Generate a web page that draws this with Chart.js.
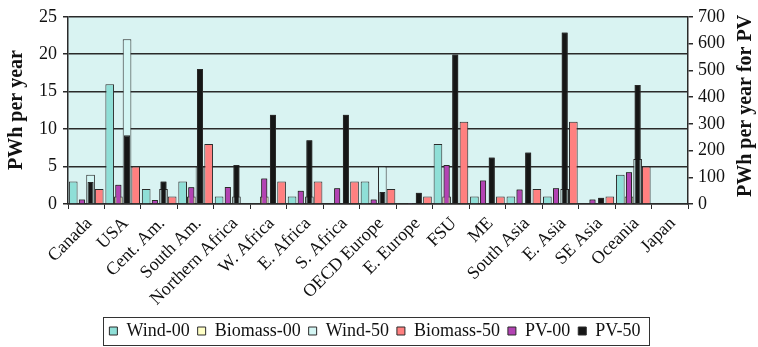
<!DOCTYPE html>
<html>
<head>
<meta charset="utf-8">
<script src="https://cdn.jsdelivr.net/npm/chart.js@4.4.1/dist/chart.umd.min.js"></script>
<style>
  html, body { margin: 0; padding: 0; background: #ffffff; }
  #wrap { width: 758px; height: 347px; }
</style>
</head>
<body>
<div id="wrap"><canvas id="c" width="758" height="347"></canvas></div>
<script>
const categories = ['Canada', 'USA', 'Cent. Am.', 'South Am.', 'Northern Africa', 'W. Africa', 'E. Africa', 'S. Africa', 'OECD Europe', 'E. Europe', 'FSU', 'ME', 'South Asia', 'E. Asia', 'SE Asia', 'Oceania', 'Japan'];
const wind00    = [3, 16, 2, 3, 1, 0, 1, 0, 3, 0, 8, 1, 1, 1, 0, 3.9, 0];
const biomass00 = [0, 1, 0, 1, 0, 1, 0, 0, 0, 0, 1, 0, 0, 0, 0, 1, 0];
const wind50    = [3.9, 22, 2, 5, 1, 0, 1, 0, 5, 0, 0, 0, 0, 2, 0, 6, 0];
const biomass50 = [2, 5, 1, 8, 0, 3, 3, 3, 2, 1, 11, 1, 2, 11, 1, 5, 0];
// PV series use the right-hand axis (PWh per year for PV)
const pv00 = [17, 72, 15, 63, 64, 95, 50, 59, 17, 4, 146, 88, 54, 59, 17, 119, 0];
const pv50 = [82, 257, 84, 505, 146, 334, 238, 334, 45, 42, 559, 174, 193, 641, 23, 445, 0];
const leftTicksMax = 25;
const rightTicksMax = 700;

const SERIF = '"Liberation Serif", "Times New Roman", serif';
const EDGE = '#2a2a2a';

function primary(label, data, color, slot) {
  return { label, data, backgroundColor: color, borderColor: EDGE, borderWidth: 1,
    xAxisID: 'x', yAxisID: 'y', stack: slot, categoryPercentage: 0.95, barPercentage: 1.0 };
}
function secondary(label, data, color, slot) {
  return { label, data, backgroundColor: color, borderColor: EDGE, borderWidth: 1,
    xAxisID: 'x', yAxisID: 'y2', stack: slot, categoryPercentage: 0.95, barPercentage: 0.7 };
}

const decor = {
  id: 'decor',
  beforeDraw(chart) {
    const { ctx, chartArea: a } = chart;
    ctx.save();
    ctx.fillStyle = '#d9f3f2';
    ctx.fillRect(a.left, a.top, a.right - a.left, a.bottom - a.top);
    ctx.restore();
  },
  afterDatasetsDraw(chart) {
    // PV bars sit in front of the other bars
    const { ctx, chartArea: a } = chart;
    ctx.save();
    ctx.beginPath();
    ctx.rect(a.left, a.top, a.right - a.left, a.bottom - a.top);
    ctx.clip();
    [4, 5].forEach(i => chart.getDatasetMeta(i).data.forEach(el => el.draw(ctx)));
    ctx.restore();
  },
  afterDraw(chart) {
    const { ctx } = chart;
    ctx.save();
    ctx.fillStyle = '#111';
    ctx.font = 'bold 20px ' + SERIF;
    ctx.textAlign = 'center';
    ctx.textBaseline = 'middle';
    ctx.save();
    ctx.translate(17, 110);
    ctx.rotate(-Math.PI / 2);
    ctx.fillText('PWh per year', 0, 0);
    ctx.restore();
    ctx.save();
    ctx.translate(746, 106);
    ctx.rotate(-Math.PI / 2);
    ctx.fillText('PWh per year for PV', 0, 0);
    ctx.restore();
    // legend frame
    const lg = chart.legend;
    if (lg && lg.legendHitBoxes && lg.legendHitBoxes.length) {
      let l = Infinity, r = -Infinity;
      lg.legendHitBoxes.forEach(h => { l = Math.min(l, h.left); r = Math.max(r, h.left + h.width); });
      ctx.strokeStyle = '#333';
      ctx.lineWidth = 1;
      ctx.strokeRect(Math.round(l - 6) + 0.5, 317.5, Math.round(r - l + 15), 28);
    }
    ctx.restore();
  }
};

new Chart(document.getElementById('c'), {
  type: 'bar',
  data: {
    labels: categories,
    datasets: [
      primary('Wind-00', wind00, '#8fdfd7', 'a'),
      primary('Biomass-00', biomass00, '#ffffc6', 'b'),
      primary('Wind-50', wind50, '#d4f6f4', 'c'),
      primary('Biomass-50', biomass50, '#ff8080', 'd'),
      secondary('PV-00', pv00, '#b343b3', 'b'),
      secondary('PV-50', pv50, '#161616', 'c')
    ]
  },
  options: {
    responsive: false,
    devicePixelRatio: 1,
    animation: false,
    layout: { padding: { top: 14, left: 0, right: 8, bottom: -3 } },
    plugins: {
      tooltip: { enabled: false },
      legend: {
        position: 'bottom',
        labels: {
          font: { family: SERIF, size: 18 },
          color: '#111',
          boxWidth: 8,
          boxHeight: 8,
          padding: 8
        }
      }
    },
    scales: {
      x: {
        type: 'category',
        stacked: true,
        offset: true,
        grid: { offset: true, drawOnChartArea: false, drawTicks: true, tickLength: 5, color: EDGE, lineWidth: 1 },
        border: { color: EDGE, width: 1.5 },
        ticks: { autoSkip: false, maxRotation: 45, minRotation: 45, padding: 4, labelOffset: 3,
                 font: { family: SERIF, size: 18 }, color: '#111' },
        afterFit: s => { s.height = 110; }
      },
      y: {
        position: 'left',
        stacked: false,
        min: 0,
        max: leftTicksMax,
        ticks: { stepSize: 5, font: { family: SERIF, size: 18 }, color: '#111', padding: 6 },
        grid: { color: EDGE, lineWidth: 1.5, tickLength: 5 },
        border: { color: EDGE, width: 1.5 },
        afterFit: s => { s.width = 68; }
      },
      y2: {
        position: 'right',
        stacked: false,
        min: 0,
        max: rightTicksMax,
        ticks: { stepSize: 100, font: { family: SERIF, size: 18 }, color: '#111', padding: 5 },
        grid: { drawOnChartArea: false, color: EDGE, lineWidth: 1.5, tickLength: 5 },
        border: { color: EDGE, width: 1.5 },
        afterFit: s => { s.width = 62; }
      }
    }
  },
  plugins: [decor]
});
</script>
</body>
</html>
